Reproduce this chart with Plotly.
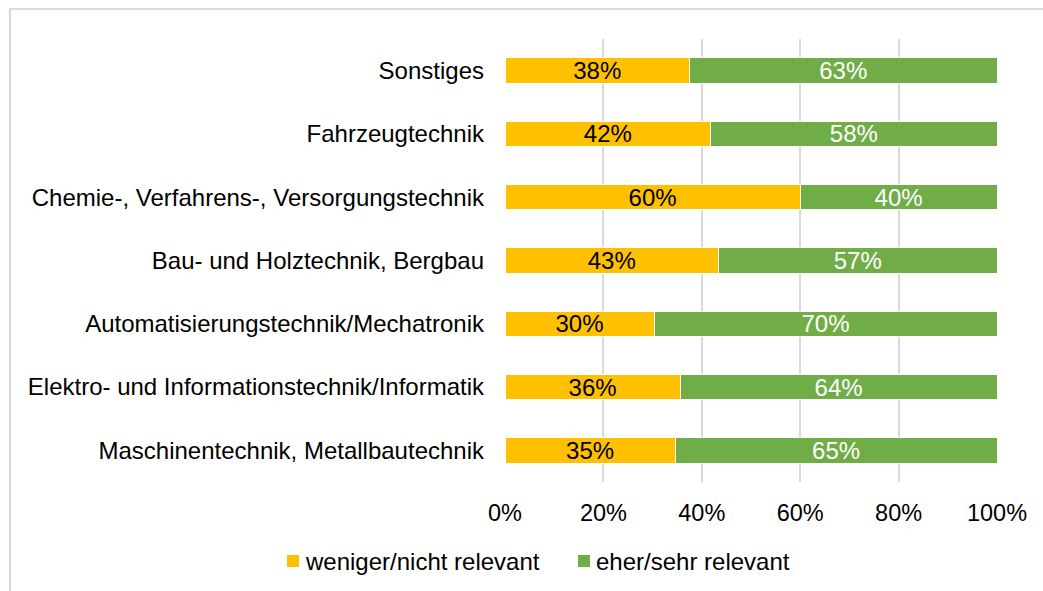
import plotly.graph_objects as go

categories = [
    "Maschinentechnik, Metallbautechnik",
    "Elektro- und Informationstechnik/Informatik",
    "Automatisierungstechnik/Mechatronik",
    "Bau- und Holztechnik, Bergbau",
    "Chemie-, Verfahrens-, Versorgungstechnik",
    "Fahrzeugtechnik",
    "Sonstiges",
]
weniger = [34.6, 35.6, 30.3, 43.4, 60.0, 41.8, 37.5]
eher = [65.4, 64.4, 69.7, 56.6, 40.0, 58.2, 62.5]
series_names = ["weniger/nicht relevant", "eher/sehr relevant"]
series_colors = ["#FFC000", "#70AD47"]
x_ticks = [0, 20, 40, 60, 80, 100]
x_ticklabels = ["0%", "20%", "40%", "60%", "80%", "100%"]

FONT = "Liberation Sans, Arial, sans-serif"
FS = 24

fig = go.Figure()
fig.add_trace(go.Bar(
    y=categories, x=weniger, name=series_names[0], orientation="h",
    marker=dict(color=series_colors[0], line=dict(color="white", width=1)),
    texttemplate="%{x:.0f}%", textposition="inside", insidetextanchor="middle",
    constraintext="none",
    textfont=dict(color="black", size=FS, family=FONT),
))
fig.add_trace(go.Bar(
    y=categories, x=eher, name=series_names[1], orientation="h",
    marker=dict(color=series_colors[1], line=dict(color="white", width=1)),
    texttemplate="%{x:.0f}%", textposition="inside", insidetextanchor="middle",
    constraintext="none",
    textfont=dict(color="white", size=FS, family=FONT),
))

W, H = 1043, 591
L, R, T, B = 505, 46, 39, 109
pw, ph = W - L - R, H - T - B

def px(x):
    return (x - L) / pw

def py(y):
    return (H - B - y) / ph

shapes = [dict(type="rect", xref="paper", yref="paper",
               x0=px(10), x1=px(1060), y0=py(610), y1=py(9),
               line=dict(color="#d9d9d9", width=2), fillcolor="rgba(0,0,0,0)",
               layer="below")]
annotations = []
legend_sq_x = [287, 578]
legend_y = 561
for name, col, sx in zip(series_names, series_colors, legend_sq_x):
    shapes.append(dict(type="rect", xref="paper", yref="paper",
                       x0=px(sx), x1=px(sx + 12), y0=py(legend_y + 6), y1=py(legend_y - 6),
                       line=dict(width=0), fillcolor=col))
    annotations.append(dict(text=name, xref="paper", yref="paper",
                            x=px(sx + 16), y=py(legend_y), xanchor="left", yanchor="middle",
                            showarrow=False, font=dict(size=FS, color="black", family=FONT)))

fig.update_layout(
    width=W, height=H,
    barmode="stack", bargap=0.6,
    margin=dict(l=L, r=R, t=T, b=B),
    paper_bgcolor="white", plot_bgcolor="white",
    font=dict(family=FONT, size=FS, color="black"),
    xaxis=dict(range=[0, 100], tickvals=x_ticks, ticktext=x_ticklabels,
               showgrid=True, gridcolor="#d9d9d9", gridwidth=1.5,
               zeroline=False, showline=False, ticks="",
               ticklabelstandoff=14, tickfont=dict(size=23.5)),
    yaxis=dict(showgrid=False, zeroline=False, showline=False, ticks="",
               ticklabelstandoff=20, tickfont=dict(size=FS),
               range=[-0.5, 6.5]),
    showlegend=False,
    shapes=shapes,
    annotations=annotations,
)

fig.write_html("out.html", config={"displayModeBar": False},
               post_script="document.body.style.margin='0';")
